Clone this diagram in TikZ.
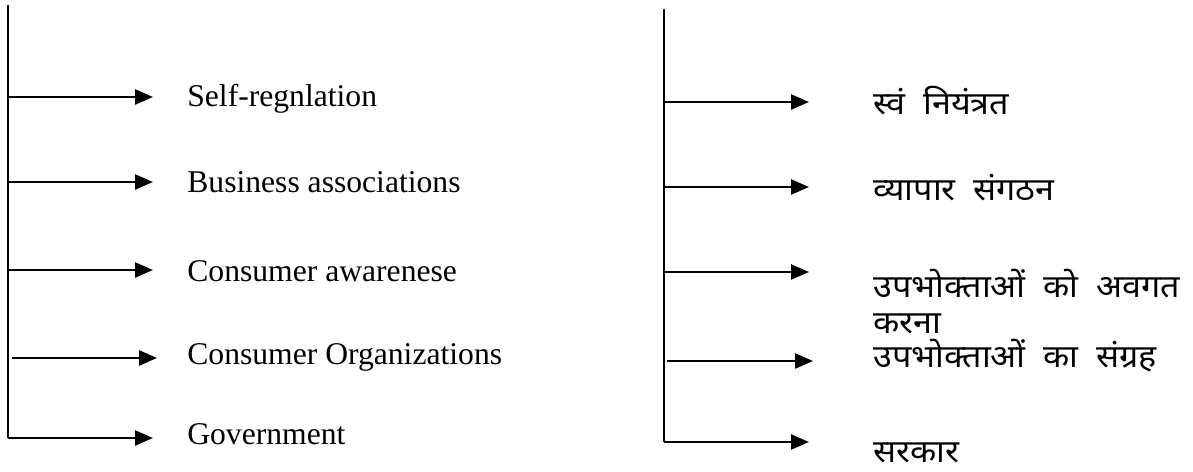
\documentclass[tikz,border=0pt]{standalone}
\usepackage{fontspec}
\setmainfont{Liberation Serif}
\newfontfamily\hindifont[Script=Devanagari,WordSpace=2,FakeStretch=1.08]{Noto Sans}
\usetikzlibrary{arrows.meta}
\tikzset{
  spine/.style={line width=1.4pt},
  branch/.style={line width=1.4pt, -{Triangle[length=0.36cm,width=0.3cm]}, shorten >=#1},
  branch/.default=0.68cm,
  engitem/.style={anchor=west, inner sep=0pt, font=\fontsize{18}{21}\selectfont},
  hinitem/.style={anchor=west, inner sep=0pt, align=left, font=\hindifont\fontsize{18}{20.5}\selectfont},
}
\begin{document}
\begin{tikzpicture}[x=0.02cm, y=-0.02cm]
  \useasboundingbox (0,0) rectangle (1193,472);
  % left tree
  \coordinate (ltop) at (8,5);
  \coordinate (lbot) at (8,438);
  \coordinate (ls1) at (8,97);
  \coordinate (ls2) at (8,182);
  \coordinate (ls3) at (8,270);
  \coordinate (ls4) at (12,358);
  \node[engitem] (l1) at (187,99) {Self-regnlation};
  \node[engitem] (l2) at (187,182) {Business associations};
  \node[engitem] (l3) at (187,271) {Consumer awarenese};
  \node[engitem] (l4) at (187,357) {Consumer Organizations};
  \node[engitem] (l5) at (187,434) {Government};
  \draw[spine] (ltop) -- (lbot);
  \begin{scope}[branch]
    \draw (ls1) -- (ls1 -| l1.west);
    \draw (ls2) -- (ls2 -| l2.west);
    \draw (ls3) -- (ls3 -| l3.west);
    \draw[shorten >=0.6cm] (ls4) -- (ls4 -| l4.west);
    \draw (lbot) -- (lbot -| l5.west);
  \end{scope}
  % right tree
  \coordinate (rtop) at (664,9);
  \coordinate (rbot) at (664,442);
  \coordinate (rs1) at (664,102);
  \coordinate (rs2) at (664,187);
  \coordinate (rs3) at (664,272);
  \coordinate (rs4) at (667,361);
  \node[hinitem] (r1) at (873,101) {स्वं नियंत्रत};
  \node[hinitem] (r2) at (873,188) {व्यापार संगठन};
  \node[hinitem] (r3) at (873,302) {उपभोक्ताओं को अवगत\\करना};
  \node[hinitem] (r4) at (873,356) {उपभोक्ताओं का संग्रह};
  \node[hinitem] (r5) at (873,453) {सरकार};
  \draw[spine] (rtop) -- (rbot);
  \begin{scope}[branch=1.28cm]
    \draw (rs1) -- (rs1 -| r1.west);
    \draw (rs2) -- (rs2 -| r2.west);
    \draw (rs3) -- (rs3 -| r3.west);
    \draw[shorten >=1.2cm] (rs4) -- (rs4 -| r4.west);
    \draw (rbot) -- (rbot -| r5.west);
  \end{scope}
\end{tikzpicture}
\end{document}
